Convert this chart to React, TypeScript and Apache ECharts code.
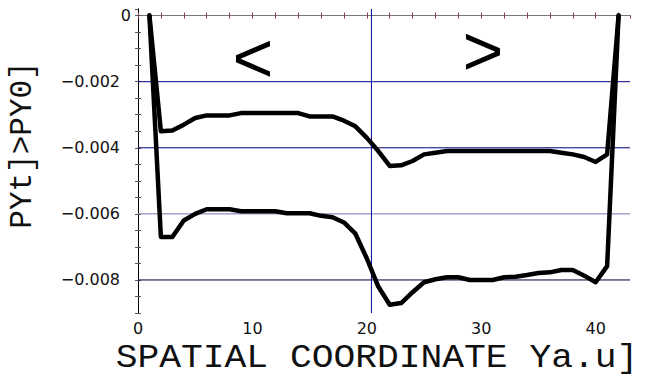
import React, { useEffect, useRef } from "react";
import * as echarts from "echarts";

const X_VALUES = [1,2,3,4,5,6,7,8,9,10,11,12,13,14,15,16,17,18,19,20,21,22,23,24,25,26,27,28,29,30,31,32,33,34,35,36,37,38,39,40,41,42];
const UPPER = [0,-0.0035,-0.00348,-0.0033,-0.0031,-0.00302,-0.00302,-0.00302,-0.00295,-0.00295,-0.00295,-0.00295,-0.00295,-0.00295,-0.00305,-0.00305,-0.00305,-0.00318,-0.00335,-0.0037,-0.0041,-0.00455,-0.00453,-0.0044,-0.0042,-0.00415,-0.0041,-0.0041,-0.0041,-0.0041,-0.0041,-0.0041,-0.0041,-0.0041,-0.0041,-0.0041,-0.00415,-0.0042,-0.00428,-0.00443,-0.0042,0];
const LOWER = [0,-0.0067,-0.0067,-0.0062,-0.006,-0.00586,-0.00586,-0.00586,-0.00592,-0.00592,-0.00592,-0.00592,-0.00598,-0.00598,-0.00598,-0.00606,-0.0061,-0.00626,-0.0066,-0.00735,-0.0082,-0.00875,-0.0087,-0.00837,-0.00807,-0.00798,-0.00792,-0.00792,-0.008,-0.008,-0.008,-0.00792,-0.0079,-0.00785,-0.00779,-0.00777,-0.0077,-0.0077,-0.00787,-0.00807,-0.00758,0];

const X_TICK_VALUES = [0, 10, 20, 30, 40];
const Y_TICK_VALUES = [0, -0.002, -0.004, -0.006, -0.008];
const Y_TICK_LABELS = ["0", "\u22120.002", "\u22120.004", "\u22120.006", "\u22120.008"];
const H_GRID = [-0.002, -0.004, -0.006, -0.008];
const H_GRID_COLORS = ["#000080", "#00007a", "#7474b4", "#000040"];
const V_GRID = 20.4;
const X_MIN = 0, X_MAX = 43, Y_MIN = -0.009, Y_MAX = 0.0002;

const X_TITLE = "SPATIAL COORDINATE Ya.u]";
const Y_TITLE = "PYt]>PY0]";

export default function App() {
  const ref = useRef<HTMLDivElement>(null);
  useEffect(() => {
    if (!ref.current) return;
    const chart = echarts.init(ref.current, undefined, { renderer: "svg" });
    const gridSeries: any[] = H_GRID.map((v, i) => ({
      type: "line",
      data: [[X_MIN, v], [X_MAX, v]],
      symbol: "none",
      silent: true,
      z: 1,
      lineStyle: { color: H_GRID_COLORS[i], width: 1 },
    }));
    gridSeries.push({
      type: "line",
      data: [[V_GRID, Y_MIN], [V_GRID, Y_MAX]],
      symbol: "none",
      silent: true,
      z: 1,
      lineStyle: { color: "#000099", width: 1 },
    });
    const curve = (d: number[]) => ({
      type: "line",
      data: X_VALUES.map((x, i) => [x, d[i]]),
      symbol: "none",
      z: 3,
      lineStyle: { color: "#000", width: 4.5, join: "round", cap: "round" },
    });
    const fmtY = (v: number) => {
      const idx = Y_TICK_VALUES.findIndex((t) => Math.abs(t - v) < 1e-9);
      if (idx < 0) return "";
      return idx === 0 ? Y_TICK_LABELS[idx] : "{a|" + Y_TICK_LABELS[idx] + "}";
    };
    chart.setOption({
      animation: false,
      backgroundColor: "#fff",
      grid: { left: 138, right: 22, top: 9, bottom: 63, containLabel: false },
      xAxis: [
        {
          type: "value", min: X_MIN, max: X_MAX, interval: 2,
          axisLine: { show: true, lineStyle: { color: "#000", width: 1 } },
          axisTick: { show: true, inside: true, length: 3, lineStyle: { color: "#8b3a3a" } },
          splitLine: { show: false },
          axisLabel: {
            fontFamily: "DejaVu Sans", fontSize: 16, color: "#111", margin: 7,
            showMaxLabel: false,
            formatter: (v: number) => (X_TICK_VALUES.indexOf(Math.round(v)) >= 0 && Math.abs(v - Math.round(v)) < 1e-9 ? String(Math.round(v)) : ""),
          },
        },
        {
          type: "value", position: "top", min: X_MIN, max: X_MAX, interval: 2,
          axisLine: { show: true, lineStyle: { color: "#777", width: 1 } },
          axisTick: { show: true, inside: true, length: 3, lineStyle: { color: "#8b3a3a" } },
          splitLine: { show: false },
          axisLabel: { show: false },
        },
      ],
      yAxis: [
        {
          type: "value", min: Y_MIN, max: Y_MAX, interval: 0.0005,
          axisLine: { show: true, lineStyle: { color: "#666", width: 1 } },
          axisTick: { show: true, inside: true, length: 3, lineStyle: { color: "#555" } },
          splitLine: { show: false },
          axisLabel: {
            fontFamily: "DejaVu Sans", fontSize: 16, color: "#111", margin: 7,
            showMaxLabel: false,
            formatter: fmtY,
            rich: { a: { fontFamily: "DejaVu Sans", fontSize: 16, color: "#111", padding: [0, 11, 0, 0] } },
          },
        },
        {
          type: "value", position: "right", min: Y_MIN, max: Y_MAX, interval: 0.0005,
          axisLine: { show: true, lineStyle: { color: "#000", width: 1 } },
          axisTick: { show: true, inside: true, length: 3, lineStyle: { color: "#555" } },
          splitLine: { show: false },
          axisLabel: { show: false },
        },
      ],
      graphic: [
        {
          type: "text", x: 22, y: 145, rotation: Math.PI / 2,
          style: { text: Y_TITLE, fontFamily: "Liberation Mono", fontSize: 31, fill: "#111", align: "center", verticalAlign: "middle" },
        },
        {
          type: "text", x: 377, y: 358, scaleX: 1.1,
          style: { text: X_TITLE, fontFamily: "Liberation Mono", fontSize: 33, fill: "#111", align: "center", verticalAlign: "middle" },
        },
        {
          type: "text", x: 253, y: 58,
          style: { text: "<", fontFamily: "Liberation Sans", fontSize: 70, fill: "#000", align: "center", verticalAlign: "middle" },
        },
        {
          type: "text", x: 483, y: 51,
          style: { text: ">", fontFamily: "Liberation Sans", fontSize: 70, fill: "#000", align: "center", verticalAlign: "middle" },
        },
      ],
      series: [...gridSeries, curve(UPPER), curve(LOWER)],
    });
    return () => chart.dispose();
  }, []);
  return <div ref={ref} style={{ width: 652, height: 376, position: "absolute", left: 0, top: 0 }} />;
}
